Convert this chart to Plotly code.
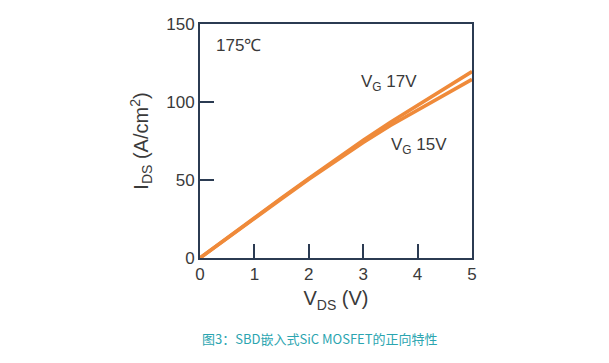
import plotly.graph_objects as go

vds = [0, 0.5, 1, 1.5, 2, 2.5, 3, 3.5, 4, 4.5, 5]
ids_17v = [0, 13, 26, 38.5, 51, 63.5, 75.5, 87, 98, 109, 119.5]
ids_15v = [0, 12.8, 25.7, 38, 50.5, 62.5, 74, 85, 95, 105, 114.5]
x_ticks = [0, 1, 2, 3, 4, 5]
y_ticks = [0, 50, 100, 150]

orange = "#ef8a3a"
frame = "#2b3b52"
txt = "#3a3a3a"
font = "Liberation Sans, Arial, sans-serif"

fig = go.Figure()
fig.add_trace(go.Scatter(x=vds, y=ids_17v, mode="lines", line=dict(color=orange, width=3.5), showlegend=False))
fig.add_trace(go.Scatter(x=vds, y=ids_15v, mode="lines", line=dict(color=orange, width=3.5), showlegend=False))

fig.update_xaxes(range=[0, 5], tickvals=x_ticks, ticks="inside", ticklen=14, tickwidth=1.5, tickcolor=frame,
                 showline=True, mirror=True, linecolor=frame, linewidth=2, showgrid=False, zeroline=False,
                 tickfont=dict(family=font, size=17, color=txt),
                 title=dict(text="V<sub>DS</sub> (V)", font=dict(family=font, size=20, color=txt), standoff=8))
fig.update_yaxes(range=[0, 150], tickvals=y_ticks, ticks="inside", ticklen=14, tickwidth=1.5, tickcolor=frame,
                 showline=True, mirror=True, linecolor=frame, linewidth=2, showgrid=False, zeroline=False,
                 tickfont=dict(family=font, size=17, color=txt),
                 title=dict(text="I<sub>DS</sub> (A/cm<sup>2</sup>)", font=dict(family=font, size=20, color=txt), standoff=12))

fig.add_annotation(x=0.26, y=136, text="175℃", showarrow=False, xanchor="left", yanchor="middle",
                   font=dict(family=font, size=17, color=txt))
fig.add_annotation(x=2.92, y=112, text="V<sub>G</sub> 17V", showarrow=False, xanchor="left", yanchor="middle",
                   font=dict(family=font, size=17, color=txt))
fig.add_annotation(x=3.47, y=72, text="V<sub>G</sub> 15V", showarrow=False, xanchor="left", yanchor="middle",
                   font=dict(family=font, size=17, color=txt))
fig.add_annotation(xref="paper", yref="paper", x=0.44, y=-0.345, text="图3：SBD嵌入式SiC MOSFET的正向特性",
                   showarrow=False, xanchor="center", yanchor="middle",
                   font=dict(family="Noto Sans CJK SC, sans-serif", size=13, color="#2ba5b0"))

fig.update_layout(width=609, height=363, margin=dict(l=200, r=137, t=24, b=105),
                  paper_bgcolor="white", plot_bgcolor="white")
fig.write_html("out.html", config={"displayModeBar": False},
               post_script="document.body.style.margin='0';document.body.style.overflow='hidden';")
